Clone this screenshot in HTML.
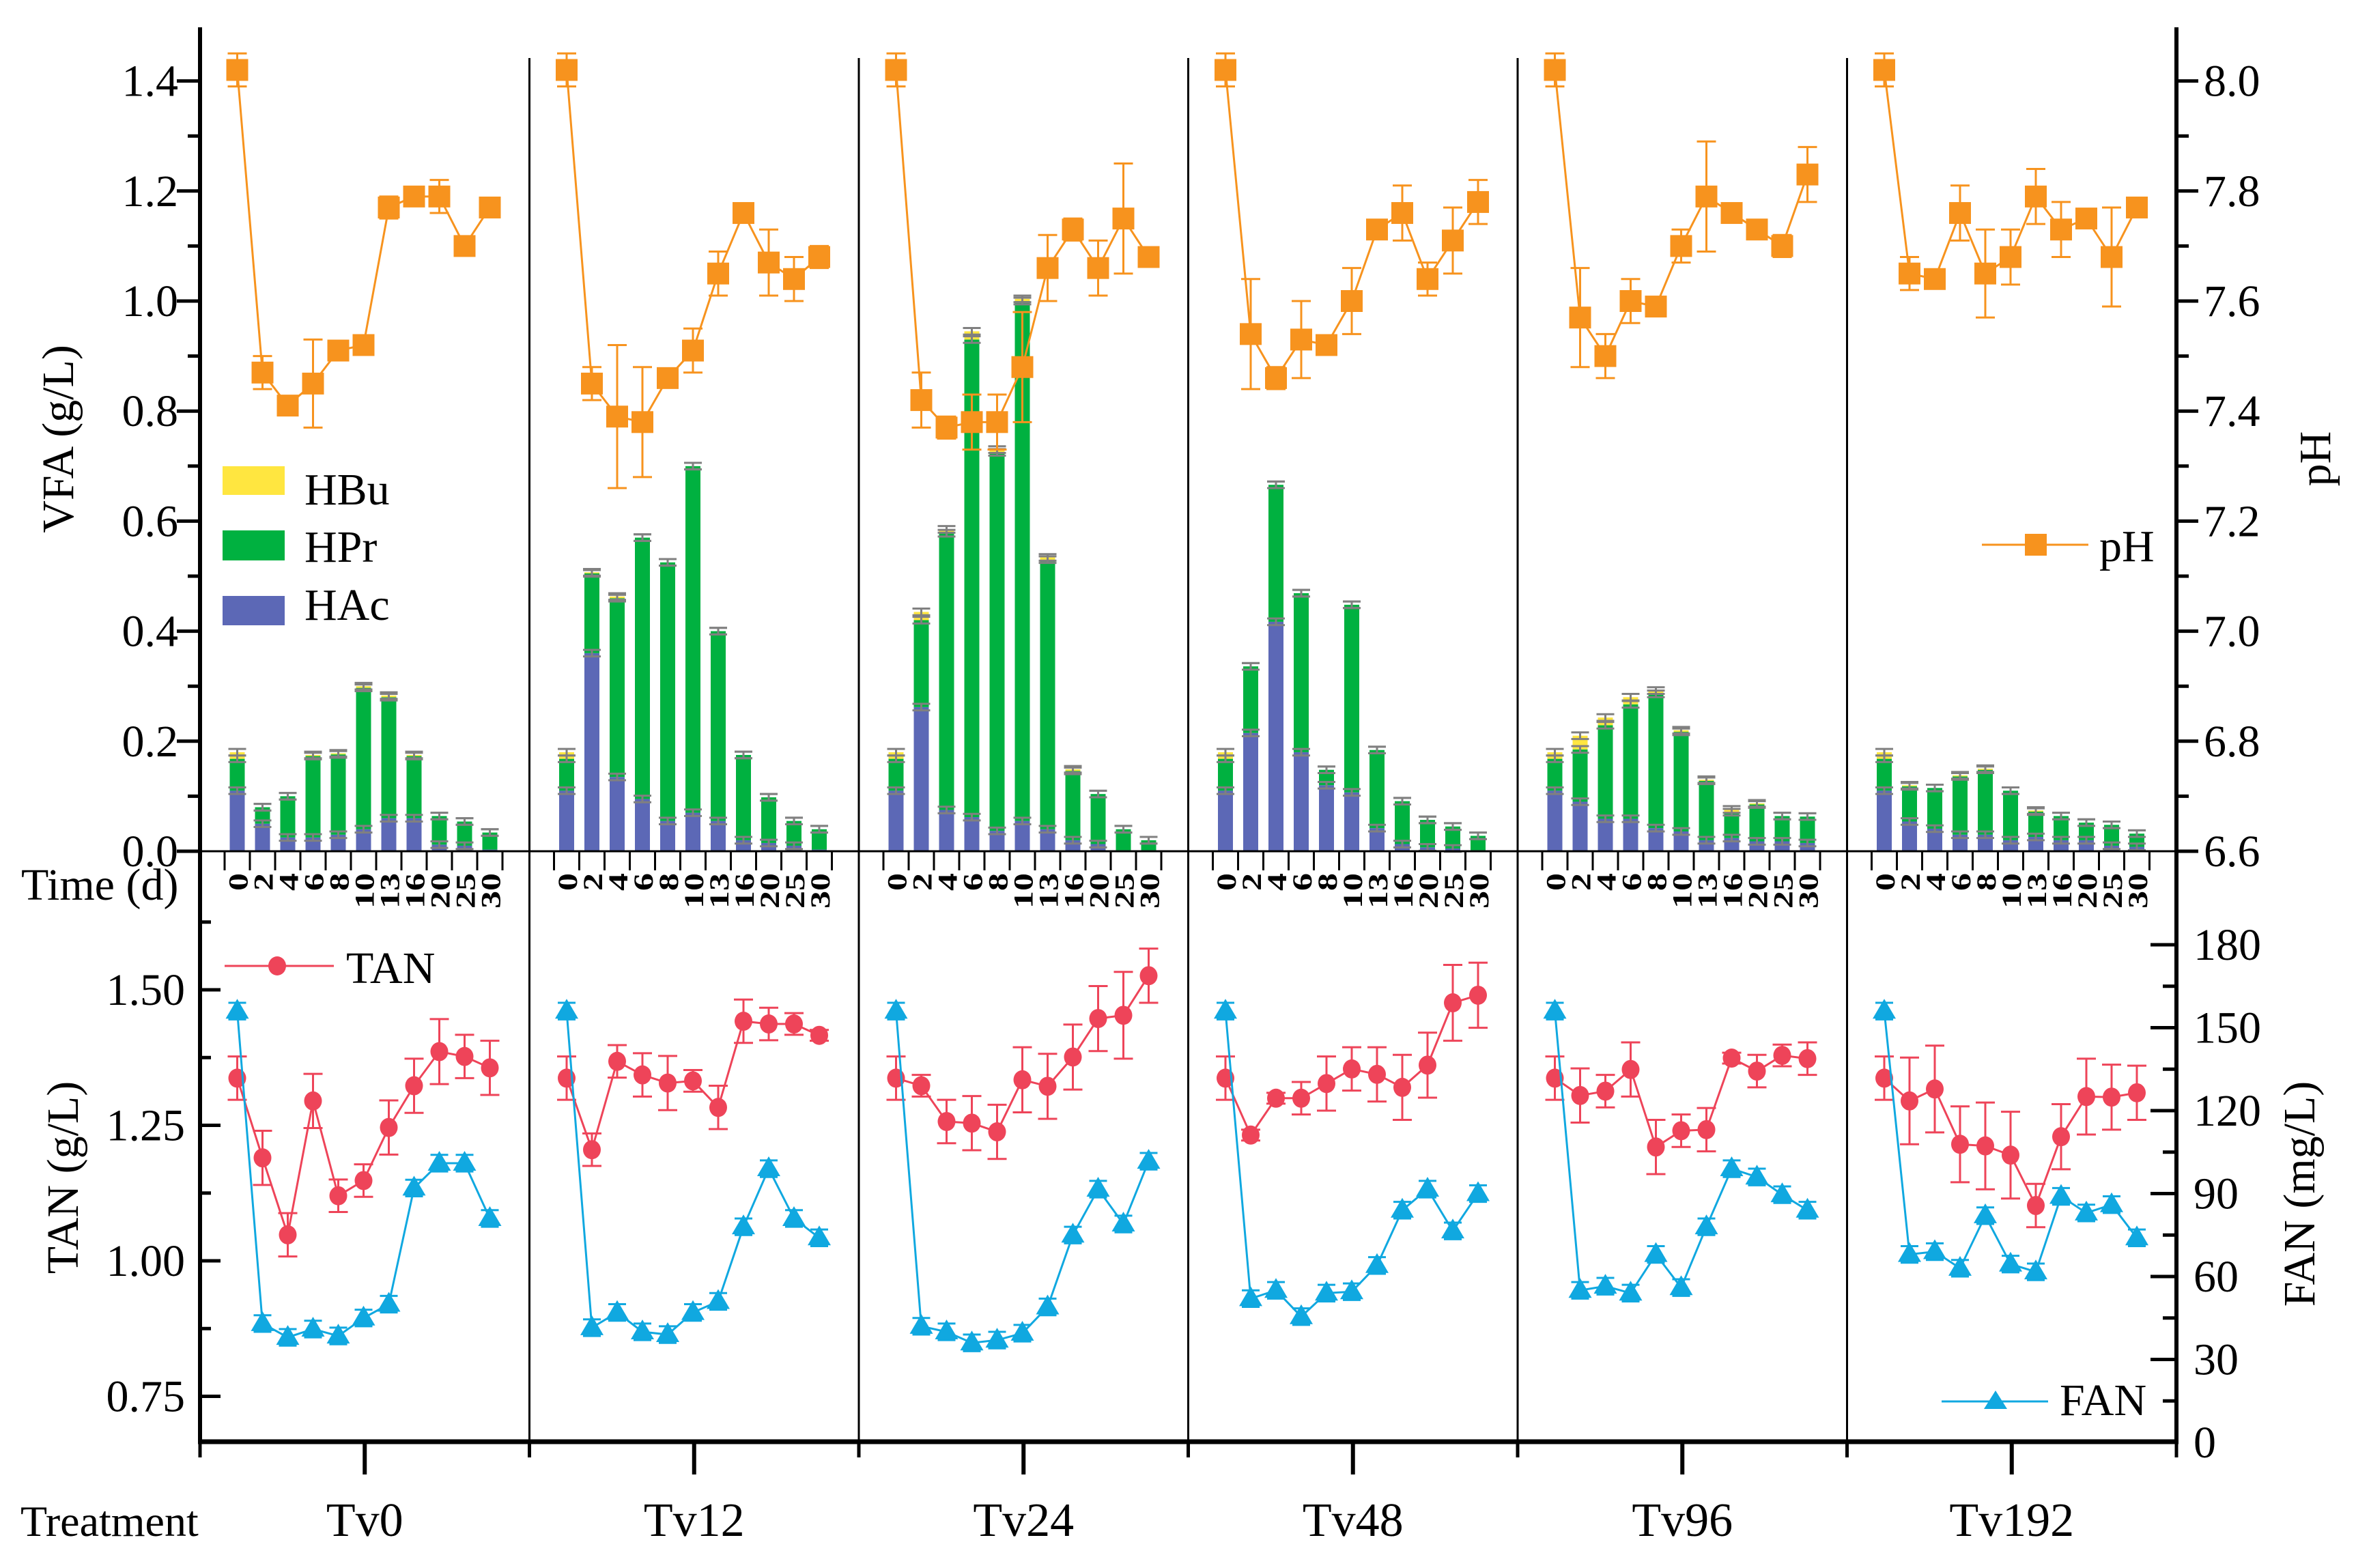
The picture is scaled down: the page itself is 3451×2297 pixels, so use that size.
<!DOCTYPE html>
<html><head><meta charset="utf-8"><style>
html,body{margin:0;padding:0;background:#fff;}
svg{display:block;font-family:"Liberation Serif",serif;}
</style></head><body>
<svg id="chart" width="3451" height="2297" viewBox="0 0 3451 2297" xmlns="http://www.w3.org/2000/svg">
<rect x="0" y="0" width="3451" height="2297" fill="#fff"/>
<g id="marks"></g>
<g id="axes"></g>
<text x="0" y="0" font-size="66" text-anchor="middle" transform="translate(107,643) rotate(-90)">VFA (g/L)</text>
<text x="0" y="0" font-size="66" text-anchor="middle" transform="translate(114,1725) rotate(-90)">TAN (g/L)</text>
<text x="0" y="0" font-size="66" text-anchor="middle" transform="translate(3413,672) rotate(-90)">pH</text>
<text x="0" y="0" font-size="66" text-anchor="middle" transform="translate(3390,1749) rotate(-90)">FAN (mg/L)</text>
<text x="31" y="1318" font-size="66">Time (d)</text>
<text x="30" y="2250" font-size="64">Treatment</text>
<g>
<rect x="326" y="683" width="91" height="42" fill="#FFE640"/>
<text x="446" y="739" font-size="66">HBu</text>
<rect x="326" y="777" width="91" height="44" fill="#00B140"/>
<text x="446" y="823" font-size="66">HPr</text>
<rect x="326" y="873" width="91" height="43" fill="#5C68B6"/>
<text x="446" y="908" font-size="66">HAc</text>
</g>
<g>
<line x1="2903" y1="798" x2="3059" y2="798" stroke="#F7931E" stroke-width="3"/>
<rect x="2966" y="782" width="32" height="32" fill="#F7931E"/>
<text x="3075" y="822" font-size="66">pH</text>
</g>
<g>
<line x1="329" y1="1415" x2="489" y2="1415" stroke="#EE4459" stroke-width="3"/>
<ellipse cx="406" cy="1415" rx="13" ry="14" fill="#EE4459"/>
<text x="507" y="1440" font-size="66">TAN</text>
</g>
<g>
<line x1="2844" y1="2053" x2="3000" y2="2053" stroke="#10A8E0" stroke-width="3"/>
<polygon points="2923,2037 2940,2064 2906,2064" fill="#10A8E0"/>
<text x="3017" y="2073" font-size="66">FAN</text>
</g>
</svg>
<script>
const treatments = ["Tv0","Tv12","Tv24","Tv48","Tv96","Tv192"];
const days = ["0","2","4","6","8","10","13","16","20","25","30"];
const hac = [
[0.11,0.05,0.025,0.025,0.03,0.04,0.06,0.06,0.012,0.01,0.003],
[0.11,0.36,0.135,0.095,0.055,0.07,0.055,0.02,0.015,0.01,0.003],
[0.11,0.262,0.075,0.062,0.037,0.055,0.04,0.02,0.013,0.002,0.002],
[0.11,0.215,0.417,0.18,0.12,0.107,0.042,0.013,0.007,0.005,0.002],
[0.11,0.09,0.059,0.059,0.042,0.036,0.02,0.024,0.018,0.018,0.015],
[0.11,0.054,0.041,0.03,0.03,0.02,0.026,0.02,0.02,0.01,0.008]];
const hpr = [
[0.058,0.03,0.075,0.148,0.146,0.257,0.22,0.113,0.052,0.044,0.031],
[0.058,0.145,0.325,0.475,0.47,0.63,0.345,0.155,0.083,0.045,0.037],
[0.058,0.158,0.503,0.868,0.688,0.945,0.49,0.126,0.091,0.038,0.018],
[0.058,0.121,0.249,0.289,0.028,0.341,0.142,0.078,0.05,0.04,0.026],
[0.058,0.095,0.17,0.208,0.244,0.181,0.108,0.047,0.067,0.046,0.048],
[0.058,0.064,0.074,0.106,0.118,0.09,0.046,0.044,0.032,0.038,0.024]];
const hbu = [
[0.012,0,0,0.002,0.002,0.003,0.003,0.002,0,0,0],
[0.012,0.002,0.003,0,0,0,0,0,0,0,0],
[0.012,0.015,0.007,0.015,0.005,0.004,0.004,0.003,0,0,0],
[0.012,0,0,0,0,0,0,0,0,0,0],
[0.012,0.025,0.014,0.013,0.006,0.003,0.002,0.005,0.002,0,0],
[0.012,0.002,0,0.002,0.002,0,0.002,0,0,0,0]];
const ph = [
[8.02,7.47,7.41,7.45,7.51,7.52,7.77,7.79,7.79,7.70,7.77],
[8.02,7.45,7.39,7.38,7.46,7.51,7.65,7.76,7.67,7.64,7.68],
[8.02,7.42,7.37,7.38,7.38,7.48,7.66,7.73,7.66,7.75,7.68],
[8.02,7.54,7.46,7.53,7.52,7.60,7.73,7.76,7.64,7.71,7.78],
[8.02,7.57,7.50,7.60,7.59,7.70,7.79,7.76,7.73,7.70,7.83],
[8.02,7.65,7.64,7.76,7.65,7.68,7.79,7.73,7.75,7.68,7.77]];
const phErr = [
[0.03,0.03,0.01,0.08,0.01,0.01,0.02,0.01,0.03,0.01,0.01],
[0.03,0.03,0.13,0.10,0.01,0.04,0.04,0.01,0.06,0.04,0.02],
[0.03,0.05,0.02,0.05,0.05,0.10,0.06,0.02,0.05,0.10,0.01],
[0.03,0.10,0.02,0.07,0.01,0.06,0.01,0.05,0.03,0.06,0.04],
[0.03,0.09,0.04,0.04,0.01,0.03,0.10,0.01,0.01,0.02,0.05],
[0.03,0.03,0.01,0.05,0.08,0.05,0.05,0.05,0.01,0.09,0.01]];
const tan = [
[1.337,1.19,1.048,1.295,1.12,1.148,1.246,1.323,1.386,1.377,1.356],
[1.337,1.205,1.368,1.343,1.328,1.332,1.283,1.442,1.437,1.437,1.416],
[1.337,1.323,1.257,1.254,1.238,1.334,1.322,1.376,1.447,1.453,1.526],
[1.337,1.232,1.30,1.30,1.327,1.354,1.344,1.32,1.361,1.476,1.49],
[1.337,1.305,1.313,1.353,1.21,1.24,1.242,1.374,1.35,1.379,1.373],
[1.337,1.295,1.317,1.215,1.212,1.195,1.102,1.229,1.303,1.302,1.31]];
const tanErr = [
[0.04,0.05,0.04,0.05,0.03,0.03,0.05,0.05,0.06,0.04,0.05],
[0.04,0.03,0.03,0.04,0.05,0.02,0.04,0.04,0.03,0.02,0.01],
[0.04,0.02,0.04,0.05,0.05,0.06,0.06,0.06,0.06,0.08,0.05],
[0.04,0.01,0.01,0.03,0.05,0.04,0.05,0.06,0.06,0.07,0.06],
[0.04,0.05,0.03,0.05,0.05,0.03,0.04,0.01,0.03,0.02,0.03],
[0.04,0.08,0.08,0.07,0.08,0.08,0.04,0.06,0.07,0.06,0.05]];
const fan = [
[156,43,38,41,38.5,45,50,92,101,101,81],
[156,41.5,47,40,39,47,51,78,99,81,74],
[156,42,40,36,37,39.5,49,75,91.6,79,101.7],
[156,52,55,45.5,54,54.5,64,84,91.6,76.5,90],
[156,55,56.5,54,68,56,78,99,96,89.6,84],
[156,68,69,63,82,64.5,61.7,89,83,86,74]];
const vfaTicks = ["0.0","0.2","0.4","0.6","0.8","1.0","1.2","1.4"];
const phTicks = ["6.6","6.8","7.0","7.2","7.4","7.6","7.8","8.0"];
const tanTicks = ["0.75","1.00","1.25","1.50"];
const fanTicks = ["0","30","60","90","120","150","180"];

const NS="http://www.w3.org/2000/svg";
const X0=293, X1=3188, PW=(X1-X0)/6, CW=37, COFF=36;
const yV = v => 1247 - v*806;
const yP = p => yV(p-6.6);
const yT = t => 1847 - (t-1)*794;
const yF = f => 2113 - f*4.05;
const xC = (p,i) => X0 + p*PW + COFF + CW*(i+0.5);
const marks=document.getElementById('marks'), axes=document.getElementById('axes');
function mk(tag,attrs,parent){const e=document.createElementNS(NS,tag);for(const k in attrs)e.setAttribute(k,attrs[k]);(parent||marks).appendChild(e);return e;}
function errbar(x,y1,y2,col,w,parent){
  const g=mk('g',{},parent);
  
  
  mk('line',{x1:x,y1:y1,x2:x,y2:y2,stroke:col,'stroke-width':3},g);
  mk('line',{x1:x-w,y1:y1,x2:x+w,y2:y1,stroke:col,'stroke-width':3},g);
  mk('line',{x1:x-w,y1:y2,x2:x+w,y2:y2,stroke:col,'stroke-width':3},g);
}
for(let p=0;p<6;p++){
  // bars
  for(let i=0;i<11;i++){
    const x=xC(p,i), bw=22;
    const a=hac[p][i], b=hpr[p][i], c=hbu[p][i];
    const r1=mk('rect',{x:x-bw/2,y:yV(a),width:bw,height:yV(0)-yV(a),fill:'#5C68B6'});
    
    
    const r2=mk('rect',{x:x-bw/2,y:yV(a+b),width:bw,height:yV(a)-yV(a+b),fill:'#00B140'});
    
    
    if(c>0){const r3=mk('rect',{x:x-bw/2,y:yV(a+b+c),width:bw,height:yV(a+b)-yV(a+b+c),fill:'#FFE640'});
    
    }
    [a,a+b,a+b+c].forEach(v=>{ if(v>0.003) errbar(x,yV(v+0.006),yV(v-0.006),'#808080',13); });
  }
  // pH
  let d='';
  for(let i=0;i<11;i++){d+=(i?'L':'M')+xC(p,i)+','+yP(ph[p][i]);}
  const l=mk('path',{d:d,fill:'none',stroke:'#F7931E','stroke-width':3});
  
  
  for(let i=0;i<11;i++){
    const x=xC(p,i),y=yP(ph[p][i]);
    errbar(x,yP(ph[p][i]+phErr[p][i]),yP(ph[p][i]-phErr[p][i]),'#F7931E',14);
    const s=mk('rect',{x:x-16,y:y-16,width:32,height:32,fill:'#F7931E'});
    
    
  }
  // TAN
  d='';
  for(let i=0;i<11;i++){d+=(i?'L':'M')+xC(p,i)+','+yT(tan[p][i]);}
  const lt=mk('path',{d:d,fill:'none',stroke:'#EE4459','stroke-width':3});
  
  
  for(let i=0;i<11;i++){
    const x=xC(p,i),y=yT(tan[p][i]);
    errbar(x,yT(tan[p][i]+tanErr[p][i]),yT(tan[p][i]-tanErr[p][i]),'#EE4459',14);
    const c=mk('ellipse',{cx:x,cy:y,rx:13,ry:14,fill:'#EE4459'});
    
    
  }
  // FAN
  d='';
  for(let i=0;i<11;i++){d+=(i?'L':'M')+xC(p,i)+','+yF(fan[p][i]);}
  const lf=mk('path',{d:d,fill:'none',stroke:'#10A8E0','stroke-width':3});
  
  
  for(let i=0;i<11;i++){
    const x=xC(p,i),y=yF(fan[p][i]);
    errbar(x,yF(fan[p][i]+3),yF(fan[p][i]-3),'#10A8E0',13);
    const t=mk('polygon',{points:`${x},${y-18} ${x+17},${y+11} ${x-17},${y+11}`,fill:'#10A8E0'});
    
    
  }
  // day ticks and labels
  for(let i=0;i<=11;i++){
    const tx=X0+p*PW+COFF+CW*i;
    mk('line',{x1:tx,y1:1247,x2:tx,y2:1275,stroke:'#000','stroke-width':3},axes);
  }
  for(let i=0;i<11;i++){
    const t=mk('text',{x:0,y:0,'font-size':52,'font-weight':'bold','text-anchor':'end',transform:`translate(${xC(p,i)+15},1279) rotate(-90) scale(1,0.78)`},axes);
    t.textContent=days[i];
    
    
  }
  // treatment label
  const cx=X0+p*PW+PW/2;
  const tl=mk('text',{x:cx,y:2250,'font-size':70,'text-anchor':'middle'},axes);
  tl.textContent=treatments[p];
  
  
  mk('line',{x1:cx,y1:2112,x2:cx,y2:2160,stroke:'#000','stroke-width':6},axes);
  mk('line',{x1:X0+p*PW,y1:2112,x2:X0+p*PW,y2:2135,stroke:'#000','stroke-width':5},axes);
  if(p>0){
    const sep=mk('line',{x1:X0+p*PW,y1:85,x2:X0+p*PW,y2:2112,stroke:'#000','stroke-width':3},axes);
    
    
  }
}
mk('line',{x1:X1,y1:2112,x2:X1,y2:2135,stroke:'#000','stroke-width':5},axes);
// axes lines
mk('line',{x1:X0,y1:1247,x2:X1,y2:1247,stroke:'#000','stroke-width':3},axes);
mk('line',{x1:X0-3,y1:2112,x2:X1+3,y2:2112,stroke:'#000','stroke-width':7},axes);
mk('line',{x1:X0,y1:40,x2:X0,y2:2115,stroke:'#000','stroke-width':6},axes);
mk('line',{x1:X1,y1:40,x2:X1,y2:2115,stroke:'#000','stroke-width':6},axes);
// left VFA ticks
vfaTicks.forEach((s,k)=>{const y=yV(k*0.2);
  mk('line',{x1:X0-34,y1:y,x2:X0,y2:y,stroke:'#000','stroke-width':5},axes);
  const t=mk('text',{x:X0-32,y:y+22,'font-size':66,'text-anchor':'end'},axes);t.textContent=s;
  
  
  if(k<7){const ym=yV(k*0.2+0.1);mk('line',{x1:X0-18,y1:ym,x2:X0,y2:ym,stroke:'#000','stroke-width':5},axes);}
});
// right pH ticks
phTicks.forEach((s,k)=>{const y=yP(6.6+k*0.2);
  mk('line',{x1:X1,y1:y,x2:X1+32,y2:y,stroke:'#000','stroke-width':5},axes);
  const t=mk('text',{x:X1+40,y:y+22,'font-size':66},axes);t.textContent=s;
  
  
  if(k<7){const ym=yP(6.7+k*0.2);mk('line',{x1:X1,y1:ym,x2:X1+18,y2:ym,stroke:'#000','stroke-width':5},axes);}
});
// left TAN ticks (inward)
tanTicks.forEach((s,k)=>{const y=yT(0.75+k*0.25);
  mk('line',{x1:X0,y1:y,x2:X0+30,y2:y,stroke:'#000','stroke-width':5},axes);
  const t=mk('text',{x:X0-22,y:y+22,'font-size':66,'text-anchor':'end'},axes);t.textContent=s;
  
  
});
[0.875,1.125,1.375,1.625].forEach(v=>{const y=yT(v);mk('line',{x1:X0,y1:y,x2:X0+16,y2:y,stroke:'#000','stroke-width':5},axes);});
// right FAN ticks (inward)
fanTicks.forEach((s,k)=>{const y=yF(k*30);
  mk('line',{x1:X1-38,y1:y,x2:X1,y2:y,stroke:'#000','stroke-width':5},axes);
  const t=mk('text',{x:X1+25,y:y+22,'font-size':66},axes);t.textContent=s;
  
  
  if(k<6){const ym=yF(k*30+15);mk('line',{x1:X1-20,y1:ym,x2:X1,y2:ym,stroke:'#000','stroke-width':5},axes);}
});
</script>
</body></html>
